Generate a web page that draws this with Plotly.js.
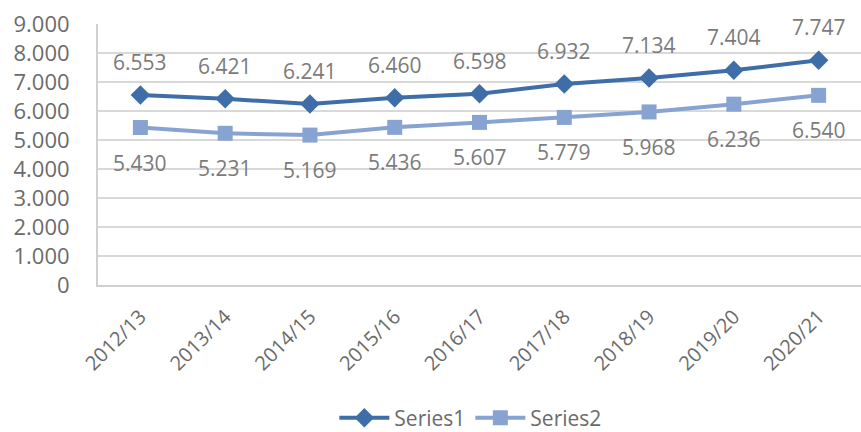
<!DOCTYPE html>
<html>
<head>
<meta charset="utf-8">
<script src="https://cdn.plot.ly/plotly-3.0.1.min.js"></script>
<style>html,body{margin:0;padding:0;background:#fff;}#chart{width:861px;height:432px;}</style>
</head>
<body>
<div id="chart"></div>
<script>
var categories = ["2012/13","2013/14","2014/15","2015/16","2016/17","2017/18","2018/19","2019/20","2020/21"];
var series1 = [6553, 6421, 6241, 6460, 6598, 6932, 7134, 7404, 7747];
var series2 = [5430, 5231, 5169, 5436, 5607, 5779, 5968, 6236, 6540];
var seriesNames = ["Series1", "Series2"];

function fmt(v){
  var s = String(v);
  return s.length > 3 ? s.slice(0, s.length-3) + "." + s.slice(s.length-3) : s;
}

var FONT = "Open Sans, Noto Sans, sans-serif";
var labelFont = {family: FONT, size: 21, color: "#7b7b7b"};

var traces = [
  {x: categories, y: series1, name: seriesNames[0], type: "scatter", mode: "lines+markers",
   line: {color: "#3E6DA8", width: 4}, marker: {symbol: "diamond", size: 15, color: "#3E6DA8"}},
  {x: categories, y: series2, name: seriesNames[1], type: "scatter", mode: "lines+markers",
   line: {color: "#87A3D2", width: 4}, marker: {symbol: "square", size: 15, color: "#87A3D2"}}
];

var annotations = [];
categories.forEach(function(c, i){
  annotations.push({x: c, y: series1[i], text: fmt(series1[i]), showarrow: false, yshift: 33, font: labelFont});
  annotations.push({x: c, y: series2[i], text: fmt(series2[i]), showarrow: false, yshift: -35, font: labelFont});
});

var layout = {
  width: 861, height: 432,
  margin: {l: 98, r: 0, t: 24, b: 147, autoexpand: false},
  paper_bgcolor: "#fff", plot_bgcolor: "#fff",
  separators: ",.",
  showlegend: true,
  legend: {orientation: "h", xref: "paper", yref: "paper", x: 0.488, xanchor: "center", y: -0.51, yanchor: "middle",
           font: {family: FONT, size: 21, color: "#6b6b6b"}, itemwidth: 50},
  xaxis: {type: "category", range: [-0.5, 8.5], showgrid: false, showline: true, linecolor: "#d0d0d0", linewidth: 2,
          tickangle: -45, ticks: "", ticklabelstandoff: 10, automargin: false,
          tickfont: {family: FONT, size: 20, color: "#6b6b6b"}},
  yaxis: {range: [0, 9000], dtick: 1000, tick0: 0, tickformat: ",d", showgrid: true, gridcolor: "#d9d9d9", gridwidth: 2,
          showline: true, linecolor: "#d0d0d0", linewidth: 2, zeroline: false, ticks: "", ticklabelstandoff: 22, automargin: false,
          tickfont: {family: FONT, size: 22, color: "#6b6b6b"}},
  annotations: annotations
};

Plotly.newPlot("chart", traces, layout, {displayModeBar: false, staticPlot: true});
</script>
</body>
</html>
